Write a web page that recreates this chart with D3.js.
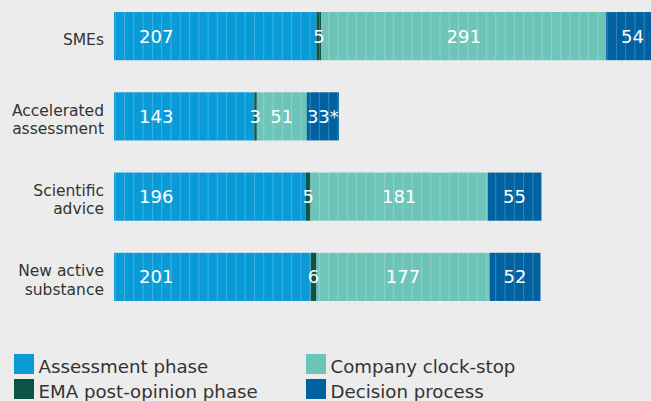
<!DOCTYPE html>
<html>
<head>
<meta charset="utf-8">
<script src="https://cdn.jsdelivr.net/npm/d3@7"></script>
<style>
  html, body { margin: 0; padding: 0; background: #ececec; overflow: hidden; }
  svg { display: block; }
</style>
</head>
<body>
<div id="chart"></div>
<script>
// median days per phase
var categories = ["SMEs", "Accelerated assessment", "Scientific advice", "New active substance"];
var catLines = [["SMEs"], ["Accelerated", "assessment"], ["Scientific", "advice"], ["New active", "substance"]];
var assessment = [207, 143, 196, 201];
var postOpinion = [5, 3, 5, 6];
var clockStop = [291, 51, 181, 177];
var decision = [54, 33, 55, 52];
var decisionLabels = ["54", "33*", "55", "52"];

var seriesNames = ["Assessment phase", "EMA post-opinion phase", "Company clock-stop", "Decision process"];
var seriesColors = ["#089bd8", "#0b5446", "#6dc5b9", "#0062a0"];

var width = 651, height = 401;

var svg = d3.select("#chart")
    .append("svg")
        .attr("width", width)
        .attr("height", height);

// vertical stripe texture
var defs = svg.append("defs");
var pat = defs.append("pattern")
    .attr("id", "stripes")
    .attr("patternUnits", "userSpaceOnUse")
    .attr("x", 3.4)
    .attr("y", 0)
    .attr("width", 9.28)
    .attr("height", 10);
pat.append("rect")
    .attr("x", 0).attr("y", 0)
    .attr("width", 1).attr("height", 10)
    .attr("fill", "#ffffff")
    .attr("fill-opacity", 0.22);

var x = d3.scaleLinear()
    .domain([0, 550])
    .range([114, 652]);

var y = d3.scaleBand()
    .domain(categories)
    .range([-4, 317])
    .paddingInner(0.4)
    .paddingOuter(0.2);

var rows = categories.map(function(c, i) {
    return {cat: c, lines: catLines[i], vals: [assessment[i], postOpinion[i], clockStop[i], decision[i]],
            labels: [String(assessment[i]), String(postOpinion[i]), String(clockStop[i]), decisionLabels[i]]};
});

var stack = [];
rows.forEach(function(r) {
    var acc = 0;
    r.vals.forEach(function(v, k) {
        stack.push({cat: r.cat, k: k, x0: acc, x1: acc + v, label: r.labels[k]});
        acc += v;
    });
    r.total = acc;
});

svg.selectAll(".seg")
    .data(stack)
    .enter()
    .append("rect")
    .attr("class", "seg")
    .attr("x", d => x(d.x0))
    .attr("y", d => y(d.cat))
    .attr("width", d => x(d.x1) - x(d.x0))
    .attr("height", y.bandwidth())
    .attr("fill", d => seriesColors[d.k]);

svg.selectAll(".tex")
    .data(rows)
    .enter()
    .append("rect")
    .attr("class", "tex")
    .attr("x", x(0))
    .attr("y", d => y(d.cat))
    .attr("width", d => x(d.total) - x(0))
    .attr("height", y.bandwidth())
    .attr("fill", "url(#stripes)");

svg.selectAll(".val")
    .data(stack)
    .enter()
    .append("text")
    .attr("class", "val")
    .attr("x", d => d.k === 0 ? x(d.x0) + 25 : (x(d.x0) + x(d.x1)) / 2)
    .attr("y", d => y(d.cat) + y.bandwidth() / 2 + 6.5)
    .attr("text-anchor", d => d.k === 0 ? "start" : "middle")
    .style("font-family", "'DejaVu Sans', Verdana, sans-serif")
    .style("font-size", "18px")
    .attr("fill", "#ffffff")
    .text(d => d.label);

// category labels
var catG = svg.selectAll(".cat")
    .data(rows)
    .enter()
    .append("text")
    .attr("class", "cat")
    .attr("text-anchor", "end")
    .style("font-family", "'DejaVu Sans', Verdana, sans-serif")
    .style("font-size", "15.5px")
    .attr("fill", "#333333");

catG.selectAll("tspan")
    .data(d => d.lines.map(function(t, i) { return {t: t, i: i, n: d.lines.length, cat: d.cat}; }))
    .enter()
    .append("tspan")
    .attr("x", 104)
    .attr("y", d => y(d.cat) + y.bandwidth() / 2 + 8.5 - (d.n - 1) * 18.3 / 2 + d.i * 18.3)
    .text(d => d.t);

// legend
var legend = svg.selectAll(".leg")
    .data(seriesNames)
    .enter()
    .append("g")
    .attr("class", "leg")
    .attr("transform", (d, i) => "translate(" + (i < 2 ? 14 : 306) + "," + (354 + (i % 2) * 25) + ")");

legend.append("rect")
    .attr("width", 20)
    .attr("height", 20)
    .attr("fill", (d, i) => seriesColors[i]);

legend.append("text")
    .attr("x", 24.5)
    .attr("y", 19.3)
    .style("font-family", "'DejaVu Sans', Verdana, sans-serif")
    .style("font-size", "18.2px")
    .attr("fill", "#333333")
    .text(d => d);
</script>
</body>
</html>
